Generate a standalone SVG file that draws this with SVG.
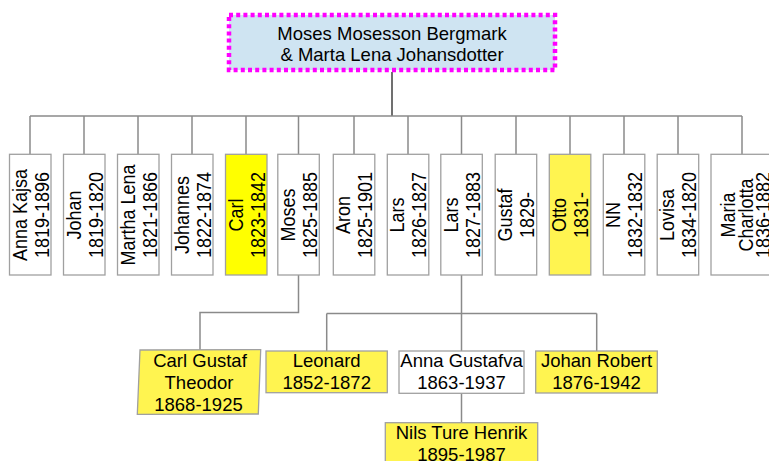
<svg xmlns="http://www.w3.org/2000/svg" width="769" height="461" viewBox="0 0 769 461">
<style>
text{font-family:"Liberation Sans",Arial,sans-serif;fill:#000;}
.h{font-size:18.5px;text-anchor:middle;}
.v{font-size:18px;text-anchor:middle;}
.box{fill:#fff;stroke:#a0a0a0;stroke-width:1.3;}
.yel{fill:#ffff00;stroke:#a0a0a0;stroke-width:1.3;}
.ly{fill:#fff450;stroke:#a0a0a0;stroke-width:1.3;}
.con{fill:none;stroke:#8a8a8a;stroke-width:1.5;}
</style>
<rect width="769" height="461" fill="#fff"/>
<g id="connectors">
<path class="con" d="M392 72V116" style="stroke:#707070;stroke-width:2"/>
<path class="con" d="M30 116H742"/>
<path class="con" d="M30 116V154M84 116V154M138 116V154M192 116V154M246 116V154M298.5 116V154M354 116V154M408 116V154M461.5 116V154M516 116V154M570 116V154M624 116V154M678 116V154M742 116V154"/>
<path class="con" d="M298.5 275V312.5H200V350"/>
<path class="con" d="M461.5 275V313.5M326.7 313.5H596.7M326.7 313.5V351M461.5 313.5V351M596.7 313.5V351"/>
<path class="con" d="M461.5 393V422.7"/>
</g>
<g id="root">
<rect x="229" y="15" width="326" height="55" fill="#cfe4f2" stroke="#ff00ff" stroke-width="4.5" stroke-dasharray="4 3.2"/>
<text class="h"><tspan x="392" y="39.5">Moses Mosesson Bergmark</tspan><tspan x="392" y="61">&amp; Marta Lena Johansdotter</tspan></text>
</g>
<g id="anna-kajsa"><rect class="box" x="9.5" y="154.3" width="41.5" height="120.7"/>
<text class="v" transform="translate(30.2,215) rotate(-90) scale(1,1.1)"><tspan x="0" y="-3.2">Anna Kajsa</tspan><tspan x="0" y="16.8">1819-1896</tspan></text></g>
<g id="johan"><rect class="box" x="63.5" y="154.3" width="41.5" height="120.7"/>
<text class="v" transform="translate(84.2,215) rotate(-90) scale(1,1.1)"><tspan x="0" y="-3.2">Johan</tspan><tspan x="0" y="16.8">1819-1820</tspan></text></g>
<g id="martha-lena"><rect class="box" x="117.5" y="154.3" width="41.5" height="120.7"/>
<text class="v" transform="translate(138.2,215) rotate(-90) scale(1,1.1)"><tspan x="0" y="-3.2">Martha Lena</tspan><tspan x="0" y="16.8">1821-1866</tspan></text></g>
<g id="johannes"><rect class="box" x="171.5" y="154.3" width="41.5" height="120.7"/>
<text class="v" transform="translate(192.2,215) rotate(-90) scale(1,1.1)"><tspan x="0" y="-3.2">Johannes</tspan><tspan x="0" y="16.8">1822-1874</tspan></text></g>
<g id="carl"><rect class="yel" x="225.5" y="154.3" width="41.5" height="120.7"/>
<text class="v" transform="translate(246.2,215) rotate(-90) scale(1,1.1)"><tspan x="0" y="-3.2">Carl</tspan><tspan x="0" y="16.8">1823-1842</tspan></text></g>
<g id="moses"><rect class="box" x="277.8" y="154.3" width="41.5" height="120.7"/>
<text class="v" transform="translate(298.5,215) rotate(-90) scale(1,1.1)"><tspan x="0" y="-3.2">Moses</tspan><tspan x="0" y="16.8">1825-1885</tspan></text></g>
<g id="aron"><rect class="box" x="333.3" y="154.3" width="41.5" height="120.7"/>
<text class="v" transform="translate(354,215) rotate(-90) scale(1,1.1)"><tspan x="0" y="-3.2">Aron</tspan><tspan x="0" y="16.8">1825-1901</tspan></text></g>
<g id="lars-1826"><rect class="box" x="387.3" y="154.3" width="41.5" height="120.7"/>
<text class="v" transform="translate(408,215) rotate(-90) scale(1,1.1)"><tspan x="0" y="-3.2">Lars</tspan><tspan x="0" y="16.8">1826-1827</tspan></text></g>
<g id="lars-1827"><rect class="box" x="440.8" y="154.3" width="41.5" height="120.7"/>
<text class="v" transform="translate(461.5,215) rotate(-90) scale(1,1.1)"><tspan x="0" y="-3.2">Lars</tspan><tspan x="0" y="16.8">1827-1883</tspan></text></g>
<g id="gustaf"><rect class="box" x="495.2" y="154.3" width="41.5" height="120.7"/>
<text class="v" transform="translate(516,215) rotate(-90) scale(1,1.1)"><tspan x="0" y="-3.2">Gustaf</tspan><tspan x="0" y="16.8">1829-</tspan></text></g>
<g id="otto"><rect class="ly" x="549.3" y="154.3" width="41.5" height="120.7"/>
<text class="v" transform="translate(570,215) rotate(-90) scale(1,1.1)"><tspan x="0" y="-3.2">Otto</tspan><tspan x="0" y="16.8">1831-</tspan></text></g>
<g id="nn"><rect class="box" x="603.3" y="154.3" width="41.5" height="120.7"/>
<text class="v" transform="translate(624,215) rotate(-90) scale(1,1.1)"><tspan x="0" y="-3.2">NN</tspan><tspan x="0" y="16.8">1832-1832</tspan></text></g>
<g id="lovisa"><rect class="box" x="657.2" y="154.3" width="41.5" height="120.7"/>
<text class="v" transform="translate(678,215) rotate(-90) scale(1,1.1)"><tspan x="0" y="-3.2">Lovisa</tspan><tspan x="0" y="16.8">1834-1820</tspan></text></g>
<g id="maria-charlotta"><rect class="box" x="711" y="154.3" width="62" height="120.7"/>
<text class="v" transform="translate(742,215) rotate(-90) scale(1,1.1)"><tspan x="0" y="-6.4">Maria</tspan><tspan x="0" y="9.6">Charlotta</tspan><tspan x="0" y="25.6">1836-1882</tspan></text></g>
<g id="carl-gustaf-theodor"><polygon class="ly" points="140,350 260.7,349.7 258.3,414 137.3,414.3"/>
<text class="h"><tspan x="200" y="367.3">Carl Gustaf</tspan><tspan x="199" y="389">Theodor</tspan><tspan x="198.5" y="410.5">1868-1925</tspan></text></g>
<g id="leonard"><rect class="ly" x="266" y="351" width="121.3" height="41.7"/>
<text class="h"><tspan x="326.7" y="367.3">Leonard</tspan><tspan x="326.7" y="389.3">1852-1872</tspan></text></g>
<g id="anna-gustafva"><rect class="box" x="399" y="351" width="125" height="42.3"/>
<text class="h"><tspan x="461.5" y="367.3">Anna Gustafva</tspan><tspan x="461.5" y="389.3">1863-1937</tspan></text></g>
<g id="johan-robert"><rect class="ly" x="535.7" y="351" width="121.6" height="42"/>
<text class="h"><tspan x="596.5" y="367.3">Johan Robert</tspan><tspan x="596.5" y="389.3">1876-1942</tspan></text></g>
<g id="nils-ture-henrik"><rect class="ly" x="385.3" y="422.7" width="152.4" height="50"/>
<text class="h"><tspan x="461.5" y="438.5">Nils Ture Henrik</tspan><tspan x="461.5" y="460.5">1895-1987</tspan></text></g>
</svg>
